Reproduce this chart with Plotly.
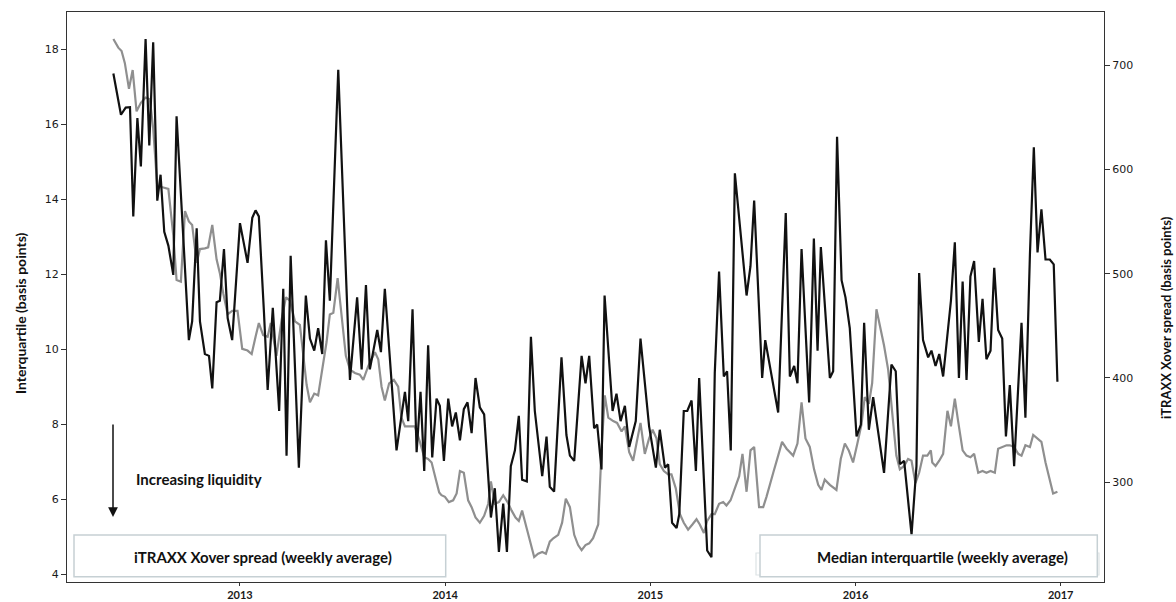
import plotly.graph_objects as go

# Median interquartile (left axis, basis points) - black line
iq_years = [2012.383, 2012.420, 2012.443, 2012.464, 2012.480, 2012.500, 2012.517, 2012.540, 2012.558, 2012.577,
            2012.597, 2012.613, 2012.631, 2012.651, 2012.675, 2012.691, 2012.724, 2012.751, 2012.767, 2012.789,
            2012.805, 2012.829, 2012.849, 2012.865, 2012.886, 2012.902, 2012.922, 2012.940, 2012.962, 2013.000,
            2013.037, 2013.060, 2013.076, 2013.092, 2013.117, 2013.135, 2013.160, 2013.191, 2013.211, 2013.227,
            2013.247, 2013.268, 2013.287, 2013.321, 2013.341, 2013.362, 2013.381, 2013.401, 2013.419, 2013.438,
            2013.479, 2013.536, 2013.571, 2013.593, 2013.614, 2013.633, 2013.669, 2013.687, 2013.706, 2013.763,
            2013.804, 2013.820, 2013.841, 2013.861, 2013.880, 2013.898, 2013.917, 2013.937, 2013.958, 2013.974,
            2013.994, 2014.015, 2014.034, 2014.052, 2014.072, 2014.091, 2014.109, 2014.129, 2014.148, 2014.169,
            2014.190, 2014.223, 2014.242, 2014.262, 2014.283, 2014.301, 2014.320, 2014.340, 2014.359, 2014.375,
            2014.398, 2014.418, 2014.437, 2014.473, 2014.494, 2014.510, 2014.531, 2014.567, 2014.591, 2014.608,
            2014.629, 2014.665, 2014.684, 2014.702, 2014.726, 2014.741, 2014.762, 2014.777, 2014.816, 2014.835,
            2014.855, 2014.876, 2014.897, 2014.929, 2014.952, 2014.994, 2015.027, 2015.046, 2015.071, 2015.087,
            2015.106, 2015.128, 2015.141, 2015.163, 2015.180, 2015.201, 2015.222, 2015.238, 2015.277, 2015.298,
            2015.314, 2015.335, 2015.358, 2015.374, 2015.392, 2015.412, 2015.469, 2015.488, 2015.506, 2015.545,
            2015.560, 2015.623, 2015.660, 2015.680, 2015.701, 2015.717, 2015.737, 2015.774, 2015.797, 2015.815,
            2015.831, 2015.875, 2015.891, 2015.910, 2015.932, 2015.951, 2015.972, 2016.005, 2016.026, 2016.042,
            2016.065, 2016.086, 2016.139, 2016.175, 2016.196, 2016.216, 2016.237, 2016.273, 2016.297, 2016.310,
            2016.329, 2016.354, 2016.370, 2016.390, 2016.408, 2016.427, 2016.465, 2016.484, 2016.504, 2016.522,
            2016.541, 2016.560, 2016.578, 2016.601, 2016.619, 2016.638, 2016.658, 2016.676, 2016.695, 2016.715,
            2016.733, 2016.752, 2016.773, 2016.809, 2016.828, 2016.850, 2016.869, 2016.887, 2016.906, 2016.926,
            2016.947, 2016.966, 2016.984]
iq_values = [17.35, 16.25, 16.44, 16.45, 13.54, 16.16, 14.87, 18.27, 15.43, 18.18,
             13.96, 14.65, 13.13, 12.76, 11.98, 16.21, 12.95, 10.24, 10.74, 13.22,
             10.74, 9.87, 9.82, 8.95, 11.25, 11.29, 12.67, 10.83, 10.24, 13.36,
             12.30, 13.50, 13.70, 13.54, 10.97, 8.91, 11.10, 8.35, 11.61, 7.16,
             12.49, 9.46, 6.84, 11.43, 10.28, 9.96, 10.56, 9.87, 12.90, 11.29,
             17.45, 9.18, 11.38, 9.46, 11.71, 9.46, 10.51, 9.92, 11.61, 7.30,
             8.86, 8.08, 11.06, 7.25, 8.86, 6.75, 10.10, 7.11, 8.68, 8.49,
             7.02, 8.68, 7.94, 8.31, 7.57, 8.40, 8.58, 7.76, 9.23, 8.45,
             8.26, 5.51, 6.29, 4.59, 5.88, 4.59, 6.88, 7.30, 8.22, 6.52,
             6.47, 10.33, 8.35, 6.61, 7.67, 6.33, 6.20, 9.78, 7.71, 7.16,
             7.02, 9.82, 9.09, 9.82, 7.89, 7.99, 6.79, 11.43, 8.35, 8.81,
             8.08, 8.49, 7.39, 8.08, 10.28, 7.94, 6.84, 7.85, 6.84, 6.93,
             5.37, 5.23, 5.60, 8.35, 8.35, 8.63, 6.75, 9.23, 4.63, 4.45,
             9.36, 12.07, 9.27, 9.41, 7.30, 14.69, 11.43, 12.21, 13.96, 9.23,
             10.24, 8.31, 13.63, 9.27, 9.55, 9.09, 12.67, 8.58, 12.95, 9.96,
             12.72, 9.23, 9.41, 15.66, 11.84, 11.38, 10.56, 7.67, 7.99, 10.70,
             7.85, 8.72, 6.70, 9.59, 9.41, 6.93, 7.02, 5.05, 6.88, 12.03,
             10.24, 9.78, 9.96, 9.55, 9.87, 9.27, 11.29, 12.85, 9.23, 11.80,
             9.18, 11.94, 12.35, 10.19, 11.34, 9.73, 9.96, 12.17, 10.51, 10.28,
             7.67, 9.04, 6.88, 10.70, 8.17, 12.53, 15.38, 12.58, 13.73, 12.39,
             12.39, 12.26, 9.13]

# iTRAXX Xover spread (right axis, basis points) - grey line
xo_years = [2012.383, 2012.407, 2012.423, 2012.439, 2012.459, 2012.477, 2012.496, 2012.517, 2012.540, 2012.561,
            2012.577, 2012.597, 2012.618, 2012.651, 2012.675, 2012.691, 2012.712, 2012.732, 2012.751, 2012.767,
            2012.789, 2012.805, 2012.829, 2012.845, 2012.865, 2012.886, 2012.902, 2012.919, 2012.940, 2012.962,
            2012.988, 2013.011, 2013.037, 2013.057, 2013.076, 2013.092, 2013.113, 2013.135, 2013.150, 2013.178,
            2013.203, 2013.224, 2013.243, 2013.268, 2013.292, 2013.308, 2013.325, 2013.341, 2013.362, 2013.381,
            2013.398, 2013.422, 2013.438, 2013.455, 2013.476, 2013.495, 2013.516, 2013.536, 2013.560, 2013.584,
            2013.601, 2013.625, 2013.641, 2013.658, 2013.674, 2013.690, 2013.706, 2013.727, 2013.750, 2013.771,
            2013.787, 2013.804, 2013.828, 2013.852, 2013.877, 2013.898, 2013.917, 2013.934, 2013.955, 2013.971,
            2013.982, 2013.999, 2014.018, 2014.039, 2014.056, 2014.072, 2014.091, 2014.112, 2014.129, 2014.148,
            2014.169, 2014.190, 2014.210, 2014.223, 2014.242, 2014.262, 2014.283, 2014.304, 2014.324, 2014.343,
            2014.359, 2014.375, 2014.397, 2014.416, 2014.434, 2014.453, 2014.473, 2014.491, 2014.510, 2014.527,
            2014.551, 2014.570, 2014.588, 2014.608, 2014.629, 2014.648, 2014.665, 2014.684, 2014.702, 2014.721,
            2014.746, 2014.762, 2014.778, 2014.795, 2014.819, 2014.838, 2014.860, 2014.876, 2014.897, 2014.916,
            2014.933, 2014.952, 2014.973, 2014.994, 2015.011, 2015.030, 2015.046, 2015.066, 2015.087, 2015.103,
            2015.124, 2015.144, 2015.163, 2015.184, 2015.205, 2015.225, 2015.241, 2015.261, 2015.277, 2015.298,
            2015.314, 2015.335, 2015.355, 2015.371, 2015.391, 2015.412, 2015.433, 2015.449, 2015.469, 2015.488,
            2015.506, 2015.530, 2015.550, 2015.566, 2015.577, 2015.599, 2015.623, 2015.642, 2015.664, 2015.696,
            2015.717, 2015.737, 2015.756, 2015.777, 2015.798, 2015.818, 2015.834, 2015.850, 2015.875, 2015.907,
            2015.928, 2015.948, 2015.967, 2015.988, 2016.009, 2016.029, 2016.045, 2016.065, 2016.081, 2016.102,
            2016.139, 2016.159, 2016.178, 2016.199, 2016.216, 2016.237, 2016.256, 2016.273, 2016.292, 2016.310,
            2016.329, 2016.350, 2016.367, 2016.374, 2016.390, 2016.408, 2016.427, 2016.448, 2016.465, 2016.484,
            2016.500, 2016.522, 2016.541, 2016.560, 2016.578, 2016.598, 2016.619, 2016.638, 2016.658, 2016.679,
            2016.695, 2016.715, 2016.736, 2016.752, 2016.773, 2016.793, 2016.809, 2016.828, 2016.850, 2016.866,
            2016.887, 2016.906, 2016.926, 2016.947, 2016.963, 2016.984]
xo_values = [725.2, 716.9, 713.6, 702.0, 677.3, 695.4, 655.8, 664.0, 669.0, 667.3,
             639.3, 583.1, 583.1, 581.4, 536.8, 493.9, 492.3, 560.0, 550.1, 546.8,
             510.4, 523.6, 524.3, 525.3, 546.8, 513.7, 500.5, 480.7, 460.9, 464.2,
             464.2, 427.8, 426.2, 422.9, 439.4, 452.6, 441.0, 439.4, 452.6, 421.2,
             455.9, 477.4, 474.1, 454.3, 450.9, 424.5, 393.1, 376.6, 384.9, 383.2,
             404.7, 434.4, 460.9, 462.5, 495.6, 457.6, 421.2, 408.0, 404.7, 403.1,
             398.1, 411.3, 417.9, 424.5, 417.9, 391.5, 378.3, 394.8, 398.1, 391.5,
             361.8, 353.5, 353.5, 353.5, 338.6, 323.8, 322.1, 318.8, 302.3, 290.0,
             287.4, 285.8, 280.8, 282.5, 289.1, 310.6, 308.9, 282.5, 275.9, 266.0,
             261.0, 267.6, 279.2, 300.6, 279.2, 280.8, 287.4, 280.8, 272.6, 266.0,
             262.7, 272.6, 256.0, 242.8, 228.0, 231.3, 232.9, 231.3, 242.8, 246.1,
             249.4, 261.0, 284.1, 275.9, 249.4, 239.5, 234.6, 239.5, 241.2, 246.1,
             259.3, 330.4, 383.2, 361.8, 358.5, 356.8, 348.5, 353.5, 328.7, 320.5,
             337.0, 356.8, 327.1, 341.9, 350.2, 341.9, 317.2, 310.6, 307.3, 307.3,
             294.0, 269.3, 261.0, 254.4, 259.3, 264.3, 259.3, 251.1, 262.7, 269.3,
             269.3, 279.2, 280.8, 277.5, 282.5, 294.0, 305.6, 327.1, 290.7, 330.4,
             333.7, 275.9, 275.9, 285.8, 294.0, 308.9, 325.4, 338.6, 332.0, 325.4,
             337.0, 376.6, 341.9, 333.7, 312.2, 297.3, 292.4, 302.3, 297.3, 292.4,
             322.1, 337.0, 330.4, 318.8, 337.0, 355.2, 381.6, 375.0, 394.8, 465.8,
             431.1, 408.0, 368.4, 325.4, 312.2, 315.5, 322.1, 320.5, 299.0, 308.9,
             325.4, 325.4, 330.4, 318.8, 315.5, 320.5, 327.1, 368.4, 353.5, 380.0,
             358.5, 330.4, 325.4, 323.8, 327.1, 308.9, 310.6, 308.9, 310.6, 308.9,
             332.0, 333.7, 335.3, 335.3, 333.7, 327.1, 325.4, 335.3, 333.7, 345.3,
             342.0, 338.6, 318.8, 302.3, 289.1, 290.7]

x_tick_vals = [2013, 2014, 2015, 2016, 2017]
x_tick_text = ["2013", "2014", "2015", "2016", "2017"]
left_ticks = [4, 6, 8, 10, 12, 14, 16, 18]
right_ticks = [300, 400, 500, 600, 700]

tick_font = dict(family="DejaVu Sans", size=11, color="#1a1a1a")
xtick_font = dict(family="Lato", size=11, color="#1a1a1a", weight="bold")

fig = go.Figure()
fig.add_trace(go.Scatter(x=xo_years, y=xo_values, mode="lines", yaxis="y",
                         line=dict(color="#8f8f8f", width=2.2), showlegend=False))
fig.add_trace(go.Scatter(x=iq_years, y=iq_values, mode="lines", yaxis="y2",
                         line=dict(color="#111111", width=2.2), showlegend=False))

axis_common = dict(showline=True, linecolor="#333333", linewidth=1, ticks="outside",
                   tickcolor="#333333", showgrid=False, zeroline=False,
                   automargin=False)

fig.update_layout(
    width=1176, height=602,
    margin=dict(l=67, r=72, t=12, b=20, autoexpand=False),
    paper_bgcolor="white", plot_bgcolor="white",
    xaxis=dict(range=[2012.157, 2017.211], tickvals=x_tick_vals, ticktext=x_tick_text,
               mirror=True, tickfont=xtick_font, ticklen=3, **axis_common),
    yaxis=dict(range=[204.1, 751.1], tickvals=right_ticks, side="right",
               tickfont=tick_font, ticklen=5, **axis_common),
    yaxis2=dict(range=[3.79, 18.99], tickvals=left_ticks, side="left", overlaying="y",
                tickfont=tick_font, ticklen=5, **axis_common),
)

# axis titles
fig.add_annotation(text="<b>Interquartile (basis points)</b>", xref="paper", yref="paper",
                   x=-0.0453, y=(582 - 313) / 570, textangle=-90, showarrow=False,
                   font=dict(family="Lato", size=14, color="#111111"),
                   xanchor="center", yanchor="middle")
fig.add_annotation(text="<b>iTRAXX Xover spread (basis points)</b>", xref="paper", yref="paper",
                   x=1.0598, y=(582 - 318) / 570, textangle=-90, showarrow=False,
                   font=dict(family="Lato", size=13, color="#111111"),
                   xanchor="center", yanchor="middle")

# arrow + label
fig.add_annotation(text="", xref="paper", yref="paper", x=(113 - 67) / 1037, y=(582 - 517) / 570,
                   ax=0, ay=-94, showarrow=True, arrowhead=2, arrowsize=1.3,
                   arrowwidth=1.5, arrowcolor="#111111")
fig.add_annotation(text="<b>Increasing liquidity</b>", xref="paper", yref="paper",
                   x=(134 - 67) / 1037, y=(582 - 479) / 570, showarrow=False,
                   xanchor="left", yanchor="middle",
                   font=dict(family="Lato", size=15, color="#111111"))

# legend boxes
box_line = dict(color="#c6d0d4", width=1.5)
fig.add_shape(type="rect", xref="paper", yref="paper",
              x0=(756 - 67) / 1037, x1=(1099 - 67) / 1037, y0=(582 - 575) / 570, y1=(582 - 553) / 570,
              line=dict(color="#dde3e5", width=1.2), fillcolor="white", layer="above")
fig.add_shape(type="rect", xref="paper", yref="paper",
              x0=(74 - 67) / 1037, x1=(445.7 - 67) / 1037, y0=(582 - 576.7) / 570, y1=(582 - 535) / 570,
              line=box_line, fillcolor="white", layer="above")
fig.add_shape(type="rect", xref="paper", yref="paper",
              x0=(760 - 67) / 1037, x1=(1097.3 - 67) / 1037, y0=(582 - 576.7) / 570, y1=(582 - 535) / 570,
              line=box_line, fillcolor="white", layer="above")
fig.add_annotation(text="<b>iTRAXX Xover spread (weekly average)</b>", xref="paper", yref="paper",
                   x=(263 - 67) / 1037, y=(582 - 556.5) / 570, showarrow=False,
                   font=dict(family="Lato", size=15, color="#111111"), xanchor="center", yanchor="middle")
fig.add_annotation(text="<b>Median interquartile (weekly average)</b>", xref="paper", yref="paper",
                   x=(942 - 67) / 1037, y=(582 - 556.5) / 570, showarrow=False,
                   font=dict(family="Lato", size=15, color="#111111"), xanchor="center", yanchor="middle")

fig.write_html("out.html")
